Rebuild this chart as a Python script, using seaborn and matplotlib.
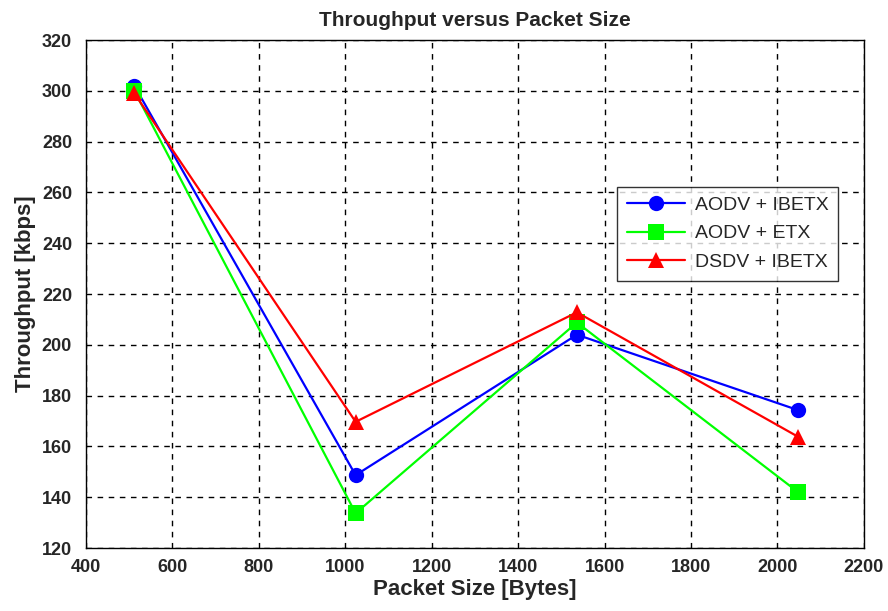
import matplotlib
matplotlib.use("Agg")
import matplotlib.pyplot as plt
import seaborn as sns
import pandas as pd

packet_size = [512, 1024, 1536, 2048]
aodv_ibetx = [302, 148.7, 204, 174.3]
aodv_etx = [300, 133.7, 208.8, 142]
dsdv_ibetx = [299, 169.7, 212.8, 163.8]
series_names = ["AODV + IBETX", "AODV + ETX", "DSDV + IBETX"]
x_ticks = [400, 600, 800, 1000, 1200, 1400, 1600, 1800, 2000, 2200]
y_ticks = [120, 140, 160, 180, 200, 220, 240, 260, 280, 300, 320]

df = pd.DataFrame({
    "Packet Size": packet_size * 3,
    "Throughput": aodv_ibetx + aodv_etx + dsdv_ibetx,
    "Series": [series_names[0]] * 4 + [series_names[1]] * 4 + [series_names[2]] * 4,
})

sns.set_style("white")
plt.rcParams["font.family"] = ["Liberation Sans", "DejaVu Sans"]

fig = plt.figure(figsize=(8.88, 6.11), dpi=100)
ax = fig.add_axes([0.0968, 0.103, 0.876, 0.8315])

palette = {series_names[0]: "#0000ff", series_names[1]: "#00ff00", series_names[2]: "#ff0000"}
markers = {series_names[0]: "o", series_names[1]: "s", series_names[2]: "^"}
sns.lineplot(data=df, x="Packet Size", y="Throughput", hue="Series", style="Series",
             palette=palette, markers=markers, dashes=False, markersize=11,
             linewidth=1.6, markeredgewidth=0, ax=ax)

ax.set_xlim(400, 2200)
ax.set_ylim(120, 320)
ax.set_xticks(x_ticks)
ax.set_yticks(y_ticks)
ax.tick_params(direction="in", length=5, labelsize=13, color="black")
ax.tick_params(axis="y", pad=10)
ax.tick_params(axis="x", pad=8)
for lbl in ax.get_xticklabels() + ax.get_yticklabels():
    lbl.set_fontweight("bold")
ax.grid(True, color="black", linestyle=(0, (4, 4)), linewidth=1)
for s in ax.spines.values():
    s.set_color("black")
    s.set_linewidth(1)

ax.set_xlabel("Packet Size [Bytes]", fontsize=16, fontweight="bold", labelpad=2)
ax.set_ylabel("Throughput [kbps]", fontsize=16, fontweight="bold", labelpad=4)
ax.set_title("Throughput versus Packet Size", fontsize=15, fontweight="bold", pad=10)

leg = ax.legend(loc="upper right", bbox_to_anchor=(0.967, 0.711), borderaxespad=0,
                fontsize=14, frameon=True, fancybox=False, edgecolor="black",
                handlelength=3.0, borderpad=0.5, labelspacing=0.55, handletextpad=0.5)
leg.get_frame().set_linewidth(1)
for h in leg.legend_handles:
    h.set_markersize(11)

fig.savefig("out.png", dpi=100)
